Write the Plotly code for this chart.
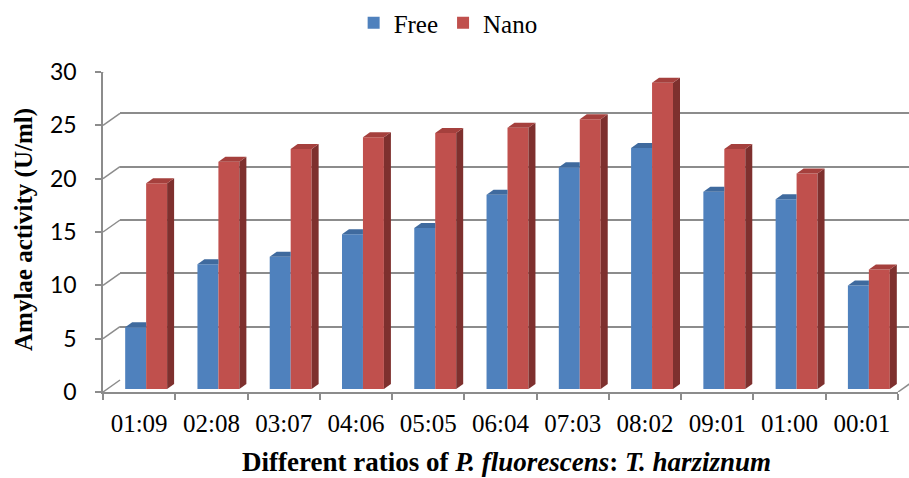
import plotly.graph_objects as go

# ---------------- data ----------------
categories = ["01:09", "02:08", "03:07", "04:06", "05:05", "06:04",
              "07:03", "08:02", "09:01", "01:00", "00:01"]
free = [5.8, 11.7, 12.4, 14.5, 15.1, 18.2, 20.8, 22.6, 18.5, 17.8, 9.7]
nano = [19.3, 21.3, 22.5, 23.6, 24.0, 24.5, 25.3, 28.7, 22.5, 20.2, 11.2]
y_ticks = [0, 5, 10, 15, 20, 25, 30]
series_names = ["Free", "Nano"]

# ---------------- style / geometry ----------------
W, H = 909, 478
L, R, T, B = 103, 0, 60, 86
PW, PH = W - L - R, H - T - B
FRONT_W, FRONT_H = 795, 320          # front axes size (px)
BACK_DX, BACK_DY = 17, 12            # back wall offset (px)
BAR_DX, BAR_DY = 7, 3                # bar plane offset (px)
DEPTH_X = 7 / (FRONT_W / len(categories))   # bar depth in x units
DEPTH_Y = 5 / (FRONT_H / 30)                # bar depth in y units
BW = 0.29

GRID = "#8c8c8c"
BLUE, BLUE_TOP = "#4F81BD", "#3F6A9E"
RED, RED_TOP, RED_SIDE = "#C0504D", "#A5403D", "#7E302E"

n = len(categories)
x_idx = list(range(n))

fig = go.Figure()
# establish category front axis
fig.add_trace(go.Scatter(x=categories, y=free, mode="markers",
                         marker=dict(opacity=0), showlegend=False,
                         hoverinfo="skip", xaxis="x", yaxis="y"))
# back wall axes
fig.add_trace(go.Scatter(x=[None], y=[None], showlegend=False,
                         hoverinfo="skip", xaxis="x2", yaxis="y2"))
# bars (front faces)
fig.add_trace(go.Bar(x=x_idx, y=free, name=series_names[0], width=BW, offset=-BW,
                     marker=dict(color=BLUE, line=dict(width=0)),
                     xaxis="x3", yaxis="y3"))
fig.add_trace(go.Bar(x=x_idx, y=nano, name=series_names[1], width=BW, offset=0,
                     marker=dict(color=RED, line=dict(width=0)),
                     xaxis="x3", yaxis="y3"))

shapes = []
# left wall diagonals & floor
for v in y_ticks:
    shapes.append(dict(type="line", xref="paper", yref="y",
                       xsizemode="pixel", ysizemode="pixel",
                       xanchor=0, yanchor=v, x0=0, x1=BACK_DX, y0=0, y1=BACK_DY,
                       line=dict(color=GRID, width=1.5), layer="below"))
shapes.append(dict(type="line", xref="paper", yref="y",
                   xsizemode="pixel", ysizemode="pixel",
                   xanchor=FRONT_W / PW, yanchor=0, x0=0, x1=BACK_DX, y0=0, y1=BACK_DY,
                   line=dict(color=GRID, width=1.5), layer="below"))

# 3D faces for bars
for i in x_idx:
    f, nn = free[i], nano[i]
    xl_f, xr_f = i - BW, i
    xl_n, xr_n = i, i + BW
    xr_cap = xr_f if nn >= f + DEPTH_Y else xr_f + DEPTH_X
    shapes.append(dict(type="path", xref="x3", yref="y3",
                       path=f"M{xl_f},{f} L{xl_f + DEPTH_X},{f + DEPTH_Y} L{xr_cap},{f + DEPTH_Y} L{xr_f},{f} Z",
                       fillcolor=BLUE_TOP, line=dict(width=0)))
    shapes.append(dict(type="path", xref="x3", yref="y3",
                       path=f"M{xr_n},0 L{xr_n},{nn} L{xr_n + DEPTH_X},{nn + DEPTH_Y} L{xr_n + DEPTH_X},{DEPTH_Y} Z",
                       fillcolor=RED_SIDE, line=dict(width=0)))
    shapes.append(dict(type="path", xref="x3", yref="y3",
                       path=f"M{xl_n},{nn} L{xl_n + DEPTH_X},{nn + DEPTH_Y} L{xr_n + DEPTH_X},{nn + DEPTH_Y} L{xr_n},{nn} Z",
                       fillcolor=RED_TOP, line=dict(width=0)))

fig.update_layout(
    width=W, height=H,
    margin=dict(l=L, r=R, t=T, b=B, pad=0),
    paper_bgcolor="white", plot_bgcolor="rgba(0,0,0,0)",
    barmode="overlay",
    showlegend=True,
    legend=dict(orientation="h", x=0.493, xref="container", xanchor="center",
                y=1.0, yref="container", yanchor="top",
                font=dict(family="Liberation Serif", size=25, color="black"),
                itemwidth=30, tracegroupgap=0),
    xaxis=dict(domain=[0, FRONT_W / PW], type="category", categoryorder="array",
               categoryarray=categories, range=[-0.5, n - 0.5],
               tickson="boundaries", ticks="outside", ticklen=6, tickwidth=1.5,
               tickcolor=GRID, showline=True, linecolor=GRID, linewidth=1.5,
               showgrid=False, zeroline=False, anchor="y", ticklabelstandoff=8,
               tickfont=dict(family="Liberation Serif", size=25, color="black")),
    yaxis=dict(domain=[0, FRONT_H / PH], range=[0, 30], tickvals=y_ticks,
               ticks="outside", ticklen=6, tickwidth=1.5, tickcolor=GRID,
               showline=True, linecolor=GRID, linewidth=1.5,
               showgrid=False, zeroline=False, anchor="x", ticklabelstandoff=14,
               tickfont=dict(family="Lato", size=23, color="black")),
    xaxis2=dict(domain=[BACK_DX / PW, 1], range=[0, 1], showgrid=False,
                showticklabels=False, ticks="", showline=False, zeroline=False,
                anchor="y2"),
    yaxis2=dict(domain=[BACK_DY / PH, (BACK_DY + FRONT_H) / PH], range=[0, 30],
                tickvals=y_ticks, showgrid=True, gridcolor=GRID, gridwidth=1.5,
                showticklabels=False, ticks="", showline=False, zeroline=False,
                anchor="x2"),
    xaxis3=dict(domain=[BAR_DX / PW, (BAR_DX + FRONT_W) / PW], range=[-0.5, n - 0.5],
                visible=False, anchor="y3"),
    yaxis3=dict(domain=[BAR_DY / PH, (BAR_DY + FRONT_H) / PH], range=[0, 30],
                visible=False, anchor="x3"),
    shapes=shapes,
    annotations=[
        dict(text="<b>Amylae activity (U/ml)</b>", textangle=-90,
             xref="paper", yref="paper", x=(24 - L) / PW, y=(392 - 230) / PH,
             xanchor="center", yanchor="middle", showarrow=False,
             font=dict(family="Liberation Serif", size=25, color="black")),
        dict(text="<b>Different ratios of <i>P. fluorescens</i>: <i>T. harziznum</i></b>",
             xref="paper", yref="paper", x=(506 - L) / PW, y=(392 - 462) / PH,
             xanchor="center", yanchor="middle", showarrow=False,
             font=dict(family="Liberation Serif", size=27, color="black")),
    ],
)

fig.write_html("out.html", config={"displayModeBar": False},
               post_script="document.body.style.margin='0';")
